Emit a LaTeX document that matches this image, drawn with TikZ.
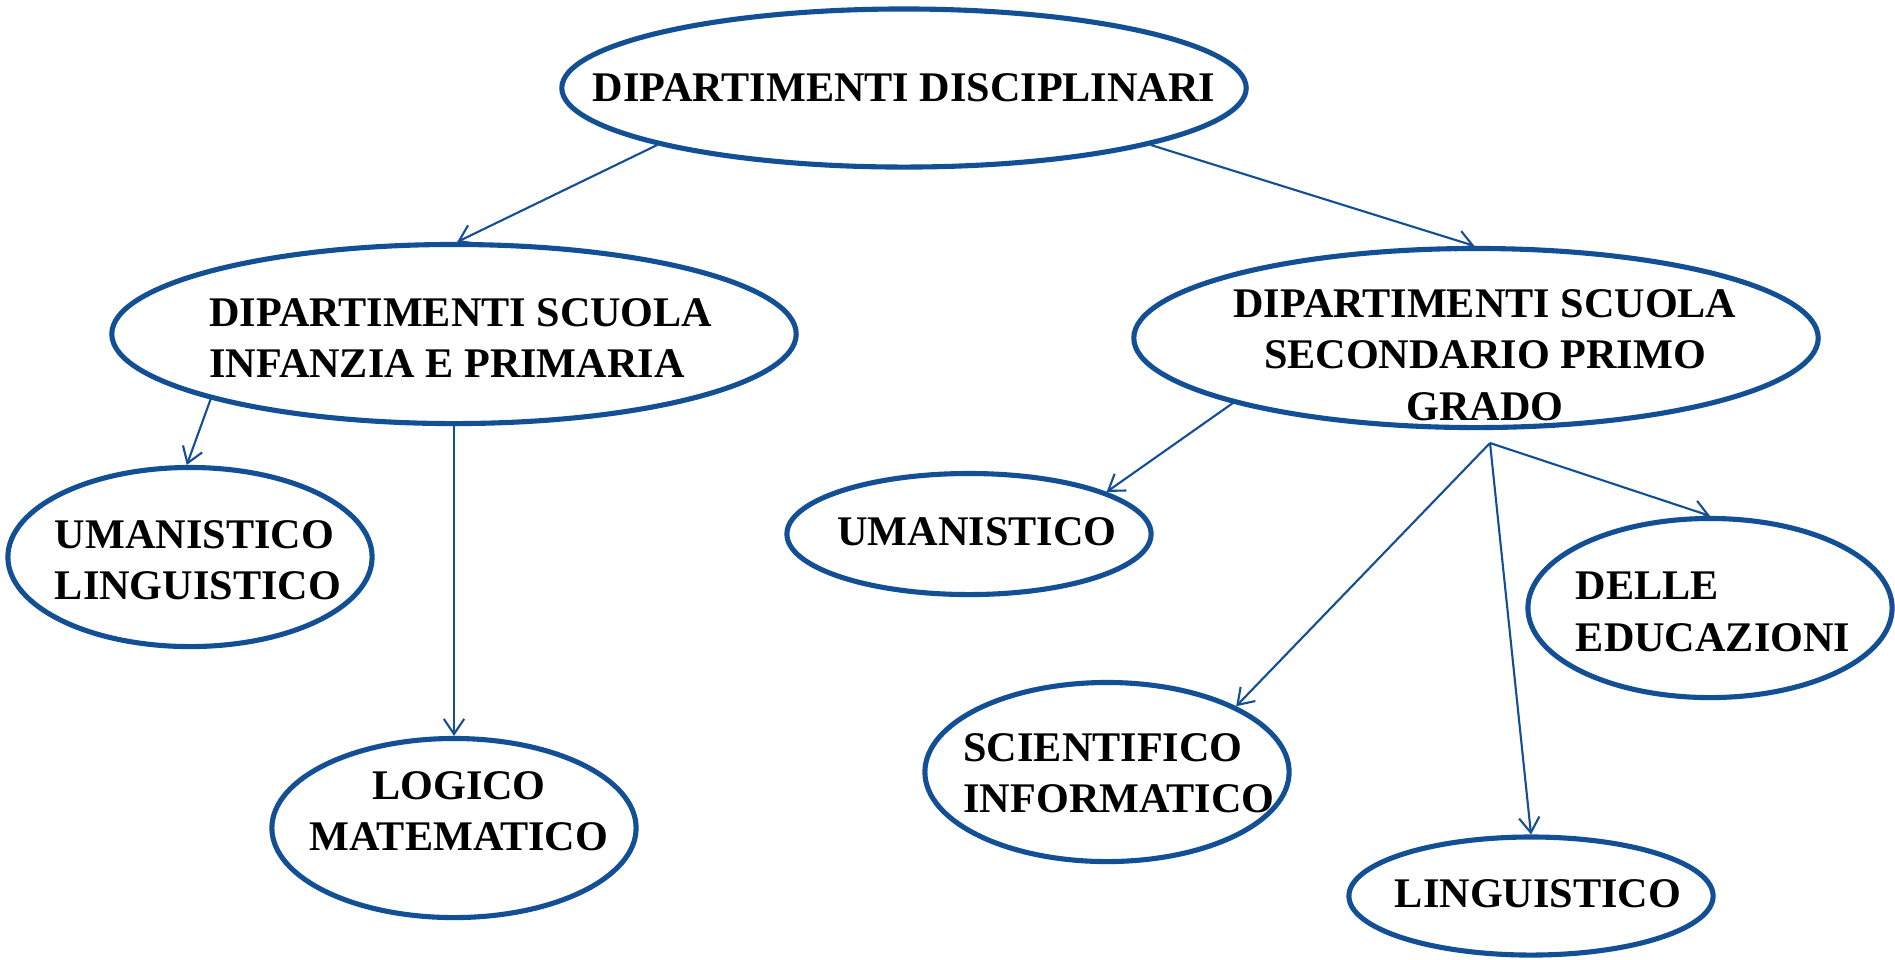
\documentclass[tikz,border=0pt]{standalone}
\usepackage{fontspec}
\setmainfont{Liberation Serif}
\usetikzlibrary{shapes.geometric, arrows.meta}
\definecolor{deptblue}{HTML}{134F94}

\begin{document}
\begin{tikzpicture}[x=0.01cm, y=-0.01cm,
    font=\fontsize{12}{14.6}\selectfont\bfseries,
    dept/.style={ellipse,
                 draw=deptblue,
                 line width=1.45pt,
                 inner sep=0pt},
    big/.style={dept, minimum width=6.84cm, minimum height=1.79cm},
    small/.style={dept, minimum width=3.64cm, minimum height=1.79cm},
    txt/.style={inner sep=0pt},
    link/.style={draw=deptblue, line width=0.6pt,
                 -{Straight Barb[length=4.3pt, width=5.8pt]}}]

    \useasboundingbox[fill=white] (0,0) rectangle (1895,959);

    % top
    \node[big, minimum height=1.58cm] (disc) at (904,88) {};
    \node[txt] (discT) at (disc) {DIPARTIMENTI DISCIPLINARI};

    % second level
    \node[big] (inf) at (454,334) {};
    \node[txt, align=left] (infT) at ([shift={(7,4)}]inf.center)
        {DIPARTIMENTI SCUOLA\\INFANZIA E PRIMARIA};
    \node[big] (sec) at (1476,338) {};
    \node[txt, align=center] (secT) at ([shift={(9,17)}]sec.center)
        {DIPARTIMENTI SCUOLA\\SECONDARIO PRIMO\\GRADO};

    % infanzia e primaria
    \node[small] (uml) at (190,557) {};
    \node[txt, align=left] (umlT) at ([shift={(8,3)}]uml.center) {UMANISTICO\\LINGUISTICO};
    \node[small] (log) at (454,828) {};
    \node[txt, align=center] (logT) at ([shift={(5,-17)}]log.center) {LOGICO\\MATEMATICO};

    % secondario
    \node[small, minimum height=1.21cm] (uma) at (969,534) {};
    \node[txt] (umaT) at ([shift={(8,-2)}]uma.center) {UMANISTICO};
    \node[small] (edu) at (1710,608) {};
    \node[txt, align=left] (eduT) at ([shift={(3,4)}]edu.center) {DELLE\\EDUCAZIONI};
    \node[small] (sci) at (1107,772) {};
    \node[txt, align=left] (sciT) at ([shift={(12,1)}]sci.center) {SCIENTIFICO\\INFORMATICO};
    \node[small, minimum height=1.18cm] (lin) at (1531,896) {};
    \node[txt] (linT) at ([shift={(7,-2)}]lin.center) {LINGUISTICO};

    \coordinate (fork) at (1490,443);

    \draw[link] (disc.193) -- (inf.88);
    \draw[link] (disc.347) -- (sec.91);
    \draw[link] (inf.195) -- (uml.92);
    \draw[link] (inf.south) -- (log.north);
    \draw[link] (sec.195) -- (uma.17);
    \draw[link] (fork) -- (sci.27);
    \draw[link] (fork) -- (lin.north);
    \draw[link] (fork) -- (edu.north);
\end{tikzpicture}
\end{document}
